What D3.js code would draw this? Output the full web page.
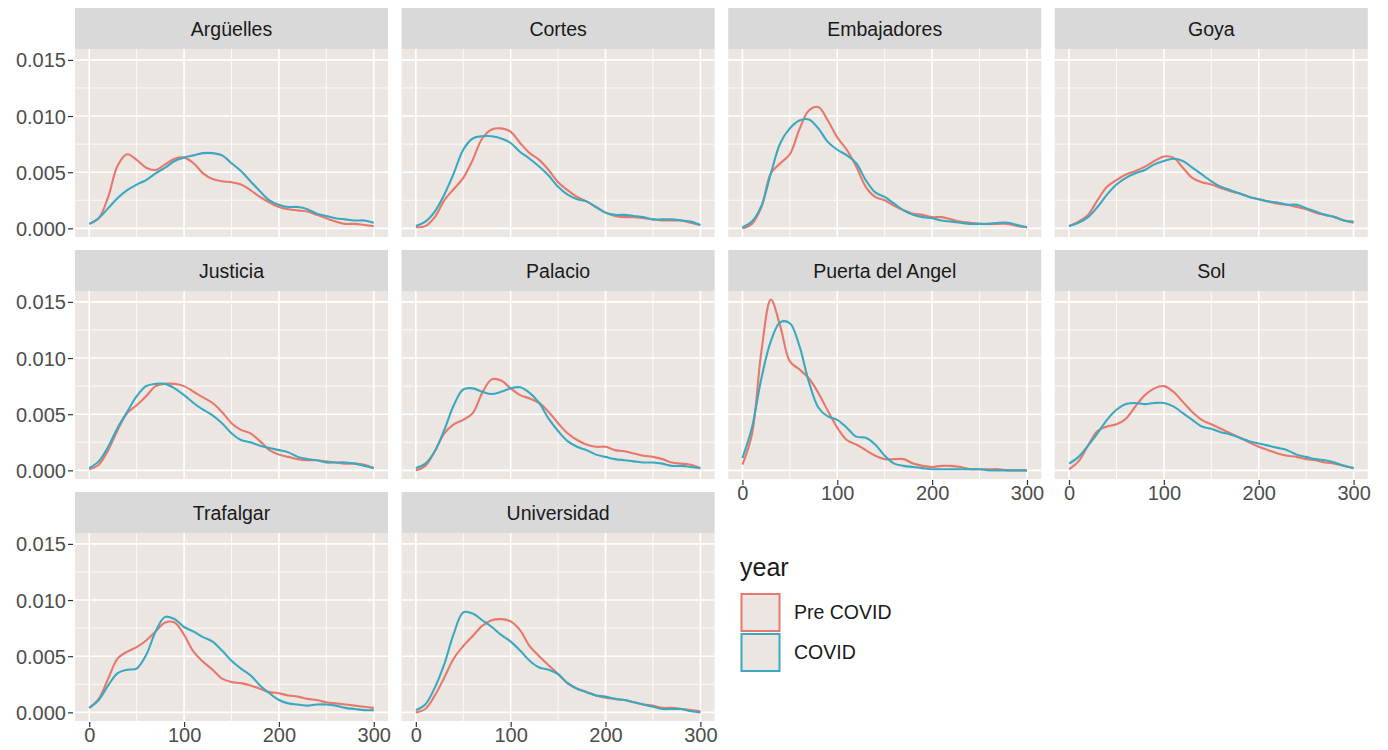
<!DOCTYPE html>
<html lang="es">
<head>
<meta charset="UTF-8">
<script src="https://d3js.org/d3.v7.min.js"></script>
<style>
  body { margin: 0; background: #fff; font-family: "Liberation Sans", Arial, sans-serif; }
  .strip-text { font-size: 19.5px; fill: #1a1a1a; }
  .tick-label { font-size: 20px; fill: #4d4d4d; }
</style>
</head>
<body>
<svg id="chart"></svg>
<script>
// stations in facet order
const stations = ["Argüelles", "Cortes", "Embajadores", "Goya", "Justicia",
                  "Palacio", "Puerta del Angel", "Sol", "Trafalgar", "Universidad"];

const xGrid = [0, 10, 20, 30, 40, 50, 60, 70, 80, 90, 100, 110, 120, 130, 140, 150,
               160, 170, 180, 190, 200, 210, 220, 230, 240, 250, 260, 270, 280, 290, 300];

const yearLevels = ["Pre COVID", "COVID"];
const xTicks = [0, 100, 200, 300];
const yTicks = [0, 0.005, 0.010, 0.015];

// density, one row per station
const preCovid = [
  [0.0004,0.0009,0.0028,0.0056,0.0066,0.0061,0.0054,0.0052,0.0057,0.0062,0.0063,0.0058,0.0049,0.0044,0.0042,0.0041,0.0039,0.0034,0.0028,0.0023,0.0019,0.0017,0.0016,0.0015,0.0012,0.0009,0.0006,0.0004,0.0004,0.0003,0.0002],
  [0.0001,0.0002,0.0010,0.0025,0.0035,0.0045,0.0061,0.0080,0.0088,0.0089,0.0086,0.0076,0.0067,0.0061,0.0052,0.0041,0.0034,0.0028,0.0024,0.0019,0.0014,0.0011,0.0010,0.0010,0.0009,0.0008,0.0007,0.0007,0.0007,0.0005,0.0003],
  [0.0000,0.0004,0.0019,0.0049,0.0058,0.0066,0.0088,0.0105,0.0108,0.0096,0.0081,0.0070,0.0055,0.0037,0.0028,0.0025,0.0020,0.0016,0.0013,0.0012,0.0010,0.0010,0.0008,0.0006,0.0005,0.0004,0.0004,0.0004,0.0004,0.0002,0.0001],
  [0.0002,0.0006,0.0012,0.0025,0.0037,0.0043,0.0048,0.0051,0.0055,0.0060,0.0064,0.0063,0.0054,0.0045,0.0041,0.0039,0.0036,0.0033,0.0031,0.0028,0.0026,0.0024,0.0022,0.0021,0.0019,0.0017,0.0014,0.0012,0.0010,0.0007,0.0005],
  [0.0001,0.0005,0.0018,0.0036,0.0051,0.0058,0.0066,0.0075,0.0077,0.0077,0.0075,0.0070,0.0065,0.0060,0.0052,0.0042,0.0036,0.0033,0.0026,0.0018,0.0014,0.0012,0.0010,0.0009,0.0009,0.0008,0.0007,0.0006,0.0006,0.0005,0.0002],
  [0.0000,0.0004,0.0017,0.0033,0.0041,0.0045,0.0051,0.0069,0.0081,0.0080,0.0073,0.0067,0.0064,0.0060,0.0052,0.0042,0.0033,0.0027,0.0023,0.0021,0.0021,0.0018,0.0017,0.0015,0.0013,0.0012,0.0010,0.0007,0.0006,0.0005,0.0002],
  [0.0005,0.0032,0.0106,0.0152,0.0128,0.0097,0.0090,0.0082,0.0069,0.0053,0.0038,0.0027,0.0023,0.0018,0.0013,0.0010,0.0010,0.0010,0.0006,0.0004,0.0003,0.0004,0.0004,0.0003,0.0001,0.0001,0.0001,0.0001,0.0000,0.0000,0.0000],
  [0.0001,0.0008,0.0022,0.0035,0.0039,0.0041,0.0046,0.0057,0.0067,0.0073,0.0075,0.0070,0.0061,0.0052,0.0045,0.0041,0.0037,0.0033,0.0029,0.0025,0.0021,0.0018,0.0015,0.0013,0.0012,0.0010,0.0009,0.0007,0.0006,0.0004,0.0002],
  [0.0004,0.0012,0.0030,0.0048,0.0054,0.0058,0.0064,0.0072,0.0080,0.0080,0.0069,0.0054,0.0045,0.0038,0.0030,0.0027,0.0026,0.0024,0.0021,0.0018,0.0017,0.0015,0.0014,0.0012,0.0011,0.0009,0.0008,0.0007,0.0006,0.0005,0.0004],
  [0.0000,0.0003,0.0015,0.0031,0.0048,0.0059,0.0068,0.0077,0.0082,0.0083,0.0081,0.0073,0.0059,0.0050,0.0042,0.0034,0.0026,0.0021,0.0018,0.0015,0.0013,0.0012,0.0011,0.0009,0.0007,0.0006,0.0004,0.0004,0.0003,0.0002,0.0001]
];

const covid = [
  [0.0004,0.0009,0.0018,0.0027,0.0034,0.0039,0.0043,0.0049,0.0054,0.0060,0.0063,0.0065,0.0067,0.0067,0.0065,0.0058,0.0051,0.0042,0.0033,0.0025,0.0021,0.0019,0.0019,0.0017,0.0013,0.0011,0.0009,0.0008,0.0007,0.0007,0.0005],
  [0.0002,0.0006,0.0015,0.0030,0.0049,0.0070,0.0080,0.0082,0.0082,0.0080,0.0076,0.0068,0.0062,0.0055,0.0047,0.0037,0.0030,0.0026,0.0024,0.0019,0.0014,0.0012,0.0012,0.0011,0.0010,0.0008,0.0008,0.0008,0.0007,0.0006,0.0003],
  [0.0001,0.0006,0.0020,0.0049,0.0076,0.0089,0.0096,0.0097,0.0089,0.0077,0.0070,0.0065,0.0058,0.0043,0.0032,0.0028,0.0022,0.0016,0.0012,0.0010,0.0009,0.0007,0.0006,0.0005,0.0004,0.0004,0.0004,0.0005,0.0005,0.0003,0.0001],
  [0.0002,0.0005,0.0010,0.0019,0.0030,0.0039,0.0045,0.0049,0.0052,0.0057,0.0060,0.0062,0.0060,0.0054,0.0048,0.0042,0.0037,0.0034,0.0031,0.0028,0.0026,0.0024,0.0023,0.0021,0.0021,0.0018,0.0015,0.0012,0.0010,0.0007,0.0006],
  [0.0002,0.0008,0.0021,0.0038,0.0052,0.0066,0.0075,0.0077,0.0077,0.0073,0.0067,0.0060,0.0054,0.0049,0.0042,0.0033,0.0027,0.0025,0.0022,0.0020,0.0018,0.0016,0.0012,0.0010,0.0009,0.0007,0.0007,0.0007,0.0006,0.0004,0.0002],
  [0.0002,0.0006,0.0017,0.0036,0.0058,0.0072,0.0073,0.0070,0.0068,0.0070,0.0073,0.0074,0.0069,0.0060,0.0046,0.0035,0.0026,0.0021,0.0018,0.0014,0.0012,0.0010,0.0009,0.0008,0.0007,0.0007,0.0006,0.0004,0.0004,0.0003,0.0002],
  [0.0011,0.0038,0.0082,0.0115,0.0132,0.0131,0.0111,0.0079,0.0056,0.0048,0.0045,0.0038,0.0030,0.0029,0.0023,0.0013,0.0006,0.0004,0.0003,0.0002,0.0001,0.0001,0.0001,0.0001,0.0001,0.0001,0.0000,0.0000,0.0000,0.0000,0.0000],
  [0.0006,0.0012,0.0022,0.0033,0.0045,0.0054,0.0059,0.0060,0.0059,0.0060,0.0060,0.0057,0.0051,0.0045,0.0039,0.0037,0.0034,0.0032,0.0029,0.0026,0.0024,0.0022,0.0020,0.0018,0.0014,0.0012,0.0010,0.0009,0.0007,0.0004,0.0002],
  [0.0004,0.0011,0.0024,0.0035,0.0038,0.0039,0.0051,0.0072,0.0085,0.0083,0.0076,0.0072,0.0067,0.0063,0.0055,0.0046,0.0039,0.0033,0.0024,0.0017,0.0011,0.0008,0.0007,0.0006,0.0007,0.0007,0.0006,0.0004,0.0003,0.0002,0.0002],
  [0.0002,0.0007,0.0022,0.0043,0.0070,0.0089,0.0088,0.0082,0.0076,0.0069,0.0063,0.0055,0.0046,0.0040,0.0038,0.0034,0.0026,0.0021,0.0018,0.0015,0.0014,0.0012,0.0011,0.0009,0.0007,0.0005,0.0003,0.0003,0.0003,0.0001,0.0000]
];

const colors = { "Pre COVID": "#e8776c", "COVID": "#3aa9c0" };
const panelBg = "#ebe6e2";

const W = 1388, H = 750;
const colLeft = 75, colStep = 326.6, panelW = 313;
const rowTop = 8, rowStep = 242, stripH = 41, panelH = 188;

const svg = d3.select("#chart").attr("width", W).attr("height", H);

const x = d3.scaleLinear().domain([-15, 315]).range([0, panelW]);
const y = d3.scaleLinear().domain([-0.00077, 0.01597]).range([panelH, 0]);

const xMinor = [50, 150, 250];
const yMinor = [0.0025, 0.0075, 0.0125];

const line = d3.line()
  .x((d, i) => x(xGrid[i]))
  .y(d => y(d))
  .curve(d3.curveCatmullRom.alpha(0.5));

stations.forEach((name, k) => {
  const col = k % 4, row = Math.floor(k / 4);
  const g = svg.append("g")
    .attr("transform", `translate(${colLeft + col * colStep},${rowTop + row * rowStep})`);

  // strip
  g.append("rect").attr("width", panelW).attr("height", stripH).attr("fill", "#d9d9d9");
  g.append("text").attr("class", "strip-text")
    .attr("x", panelW / 2).attr("y", stripH / 2 + 7)
    .attr("text-anchor", "middle").text(name);

  const p = g.append("g").attr("transform", `translate(0,${stripH})`);
  p.append("rect").attr("width", panelW).attr("height", panelH).attr("fill", panelBg);

  // grid
  p.selectAll(".gxm").data(xMinor).enter().append("line")
    .attr("x1", d => x(d)).attr("x2", d => x(d)).attr("y1", 0).attr("y2", panelH)
    .attr("stroke", "#fff").attr("stroke-width", 0.8);
  p.selectAll(".gym").data(yMinor).enter().append("line")
    .attr("x1", 0).attr("x2", panelW).attr("y1", d => y(d)).attr("y2", d => y(d))
    .attr("stroke", "#fff").attr("stroke-width", 0.8);
  p.selectAll(".gx").data(xTicks).enter().append("line")
    .attr("x1", d => x(d)).attr("x2", d => x(d)).attr("y1", 0).attr("y2", panelH)
    .attr("stroke", "#fff").attr("stroke-width", 1.6);
  p.selectAll(".gy").data(yTicks).enter().append("line")
    .attr("x1", 0).attr("x2", panelW).attr("y1", d => y(d)).attr("y2", d => y(d))
    .attr("stroke", "#fff").attr("stroke-width", 1.6);

  // density lines
  [["Pre COVID", preCovid[k]], ["COVID", covid[k]]].forEach(([lev, vals]) => {
    p.append("path").datum(vals)
      .attr("d", line)
      .attr("fill", "none")
      .attr("stroke", colors[lev])
      .attr("stroke-width", 2.1);
  });

  // y axis on first column
  if (col === 0) {
    const ya = p.append("g")
      .call(d3.axisLeft(y).tickValues(yTicks).tickFormat(d3.format(".3f")).tickSize(5).tickPadding(4));
    ya.select(".domain").remove();
    ya.selectAll("line").attr("stroke", "#333").attr("stroke-width", 1.2).attr("transform", "translate(-2,0)");
    ya.selectAll("text").attr("class", "tick-label").attr("font-family", null).attr("font-size", null).attr("fill", null).attr("dy", "0.35em");
  }

  // x axis on bottom panels of each column
  const isBottom = (row === 2) || (row === 1 && col >= 2);
  if (isBottom) {
    const xa = p.append("g").attr("transform", `translate(0,${panelH})`)
      .call(d3.axisBottom(x).tickValues(xTicks).tickSize(5).tickPadding(2));
    xa.select(".domain").remove();
    xa.selectAll("line").attr("stroke", "#333").attr("stroke-width", 1.2).attr("transform", "translate(0,1)");
    xa.selectAll("text").attr("class", "tick-label").attr("font-family", null).attr("font-size", null).attr("fill", null);
  }
});

// legend
const leg = svg.append("g").attr("transform", "translate(740,558)");
leg.append("text").attr("x", 0).attr("y", 18)
  .attr("font-size", 25).attr("fill", "#1a1a1a").text("year");
yearLevels.forEach((lev, i) => {
  const ky = 36 + i * 40;
  leg.append("rect").attr("x", 1.5).attr("y", ky).attr("width", 38).attr("height", 37)
    .attr("fill", panelBg).attr("stroke", colors[lev]).attr("stroke-width", 2);
  leg.append("text").attr("x", 54).attr("y", ky + 25)
    .attr("font-size", 19.5).attr("fill", "#1a1a1a").text(lev);
});
</script>
</body>
</html>
